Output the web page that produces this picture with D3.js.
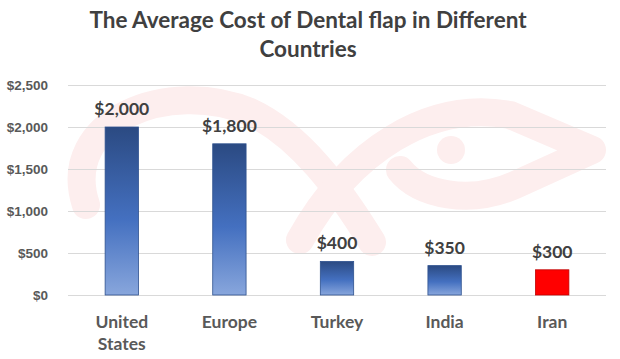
<!DOCTYPE html>
<html><head><meta charset="utf-8">
<script src="https://cdn.jsdelivr.net/npm/d3@7"></script>
<style>html,body{margin:0;padding:0;background:#fff;}svg{display:block;font-family:Lato,"Open Sans",sans-serif;}</style>
</head><body><svg id="c" width="620" height="359"></svg>
<script>
const categories = ["United States", "Europe", "Turkey", "India", "Iran"];
const costs = [2000, 1800, 400, 350, 300];
const yTicks = [0, 500, 1000, 1500, 2000, 2500];
const titleLines = ["The Average Cost of Dental flap in Different", "Countries"];
const highlight = "Iran";

const svg = d3.select("#c");
const W = 620, H = 359;
const m = {left: 68, right: 14, top: 85, bottom: 63};

// watermark (decorative)
const wm = svg.append("g").attr("fill", "none").attr("stroke", "#fdeeee").attr("stroke-width", 28).attr("stroke-linecap", "round").attr("stroke-linejoin", "round");
wm.append("path").attr("d", "M 86,205 C 58,120 170,78 250,112 C 300,135 340,190 372,242");
wm.append("path").attr("d", "M 300,240 C 350,150 430,100 510,115 L 592,150 L 515,185 C 470,205 420,195 400,170");
svg.append("circle").attr("cx", 451).attr("cy", 150).attr("r", 14).attr("fill", "#fdeeee");

const x = d3.scaleBand().domain(categories).range([m.left, W - m.right]).paddingInner(0.69).paddingOuter(0.345);
const y = d3.scaleLinear().domain([0, 2500]).range([H - m.bottom - 1, m.top]);

// gradient
const defs = svg.append("defs");
const g = defs.append("linearGradient").attr("id", "bg").attr("x1", 0).attr("y1", 0).attr("x2", 0).attr("y2", 1);
g.append("stop").attr("offset", "0%").attr("stop-color", "#2b4a82");
g.append("stop").attr("offset", "55%").attr("stop-color", "#4470c0");
g.append("stop").attr("offset", "100%").attr("stop-color", "#88a6dc");

// grid
const yAxis = d3.axisLeft(y).tickValues(yTicks).tickSize(-(W - m.left - m.right)).tickPadding(20)
  .tickFormat(d => "$" + d3.format(",")(d));
const ga = svg.append("g").attr("transform", `translate(${m.left},0)`).call(yAxis);
ga.select(".domain").remove();
ga.selectAll(".tick line").attr("stroke", "#d9d9d9").attr("stroke-width", 1);
ga.selectAll(".tick text").attr("fill", "#595959").attr("font-size", 13.5).attr("font-weight", 700);

// bars
svg.append("g").selectAll("rect").data(categories).join("rect")
  .attr("x", d => x(d)).attr("width", x.bandwidth())
  .attr("y", (d, i) => y(costs[i])).attr("height", (d, i) => y(0) - y(costs[i]))
  .attr("fill", d => d === highlight ? "#ff0000" : "url(#bg)")
  .attr("stroke", d => d === highlight ? "#c00000" : "#2f528f").attr("stroke-width", 0.8);

// value labels
svg.append("g").selectAll("text").data(categories).join("text")
  .attr("x", d => x(d) + x.bandwidth() / 2).attr("y", (d, i) => y(costs[i]) - 12)
  .attr("text-anchor", "middle").attr("font-size", 17.5).attr("font-weight", 700).attr("fill", "#404040")
  .text((d, i) => "$" + d3.format(",")(costs[i]));

// x labels
const xl = svg.append("g").selectAll("text").data(categories).join("text")
  .attr("x", d => x(d) + x.bandwidth() / 2).attr("y", 328)
  .attr("text-anchor", "middle").attr("font-size", 17.5).attr("font-weight", 700).attr("fill", "#595959");
xl.each(function(d) {
  const words = d.split(" ");
  const t = d3.select(this);
  words.forEach((w, i) => t.append("tspan").attr("x", x(d) + x.bandwidth() / 2).attr("dy", i === 0 ? 0 : 22).text(w));
});

// title
svg.append("g").selectAll("text").data(titleLines).join("text")
  .attr("x", 308).attr("y", (d, i) => 28 + i * 29)
  .attr("text-anchor", "middle").attr("font-size", 22.5).attr("font-weight", 700).attr("fill", "#404040")
  .text(d => d);
</script></body></html>
